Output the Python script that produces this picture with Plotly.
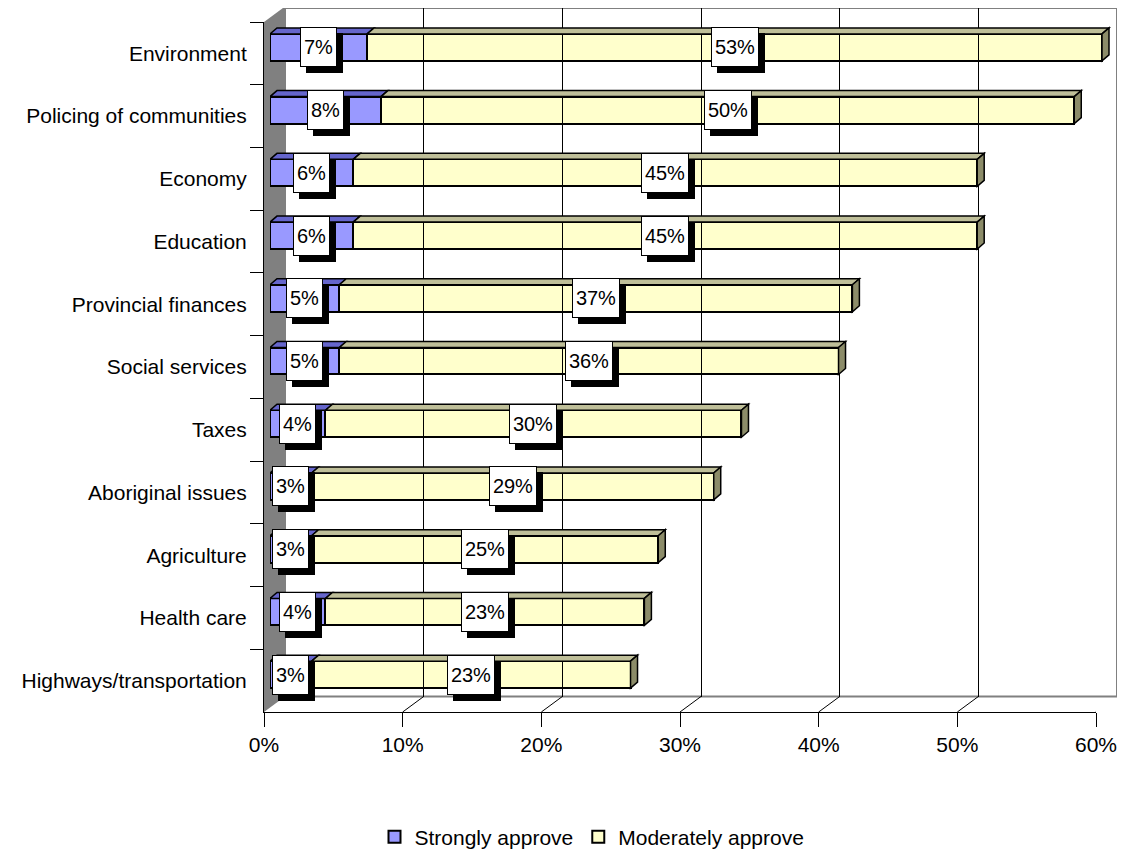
import plotly.graph_objects as go

# ---------------- data ----------------
categories = ["Environment", "Policing of communities", "Economy", "Education",
              "Provincial finances", "Social services", "Taxes", "Aboriginal issues",
              "Agriculture", "Health care", "Highways/transportation"]
strongly = [7, 8, 6, 6, 5, 5, 4, 3, 3, 4, 3]
moderately = [53, 50, 45, 45, 37, 36, 30, 29, 25, 23, 23]
series_names = ["Strongly approve", "Moderately approve"]
tick_values = [0, 10, 20, 30, 40, 50, 60]
tick_labels = ["0%", "10%", "20%", "30%", "40%", "50%", "60%"]

# ---------------- styling / geometry ----------------
OFF = 8                      # default page body margin
W, H = 1125 - 2 * OFF, 863 - 2 * OFF
FONT = "Liberation Sans, Arial, sans-serif"
BLUE, BLUE_TOP = "#9999FF", "#6666CC"
YEL, YEL_TOP, YEL_END = "#FFFFCC", "#BFBF99", "#8C8C69"
GRAY = "#808080"
LABEL_SIZE = 20

front_x = (264, 1096)   # screen pixel span for 0..60 on front plane
front_y = (22, 712)     # top, bottom of front plane
depth = (21, 15.5)      # back wall offset (right, up)
bar_off = (6, 6)        # bar plane offset from front plane
face = (7, 6)           # 3-D face depth of bars

xmax = 60
bar_xmax = 61           # extra room so the 3-D end faces are not clipped
n = len(categories)
px_per_x = (front_x[1] - front_x[0]) / xmax
px_per_cat = (front_y[1] - front_y[0]) / n
bar_w = 0.43


def px(v):
    return min(1.0, max(0.0, (v - OFF) / W))


def py(v):
    return min(1.0, max(0.0, 1 - (v - OFF) / H))


def text_width(t):
    # approximate Liberation Sans advance widths (em) for digits and '%'
    return sum((0.889 if ch == "%" else 0.556) for ch in t) * LABEL_SIZE


fig = go.Figure()

# bars (front faces)
fig.add_trace(go.Bar(y=categories, x=strongly, orientation="h", name=series_names[0],
                     xaxis="x", yaxis="y3", width=bar_w,
                     marker=dict(color=BLUE, line=dict(color="black", width=2)),
                     hoverinfo="skip"))
fig.add_trace(go.Bar(y=categories, x=moderately, orientation="h", name=series_names[1],
                     xaxis="x", yaxis="y3", width=bar_w,
                     marker=dict(color=YEL, line=dict(color="black", width=2)),
                     hoverinfo="skip"))
# dummy traces so the frame axes exist
fig.add_trace(go.Scatter(y=categories, x=[0] * n, xaxis="x2", yaxis="y", mode="markers",
                         marker=dict(opacity=0), showlegend=False, hoverinfo="skip"))
fig.add_trace(go.Scatter(y=[0], x=[0], xaxis="x3", yaxis="y2", mode="markers",
                         marker=dict(opacity=0), showlegend=False, hoverinfo="skip"))

shapes = []
# back wall
shapes.append(dict(type="rect", xref="x3 domain", yref="y2 domain", x0=0, x1=1, y0=0, y1=1,
                   line=dict(color=GRAY, width=2), fillcolor="white", layer="below"))
dxb = depth[0] / px_per_x
dyb = depth[1] / (front_y[1] - front_y[0])
# left wall
shapes.append(dict(type="path", xref="x2", yref="y domain",
                   path=f"M 0,0 L {dxb},{dyb} L {dxb},{1 + dyb} L 0,1 Z",
                   fillcolor=GRAY, line=dict(width=0), layer="below"))
# floor diagonals
for v in tick_values[1:]:
    last = v == tick_values[-1]
    shapes.append(dict(type="line", xref="x2", yref="y domain", x0=v, y0=0, x1=v + dxb, y1=dyb,
                       line=dict(color=GRAY if last else "black", width=2 if last else 1),
                       layer="below"))

# 3-D faces of bars
fdx = face[0] / px_per_x
fdy = face[1] / px_per_cat
for i in range(n):
    top = i - bar_w / 2
    bot = i + bar_w / 2
    segs = [(0, strongly[i], BLUE_TOP), (strongly[i], strongly[i] + moderately[i], YEL_TOP)]
    for x0, x1, col in segs:
        shapes.append(dict(type="path", xref="x", yref="y3",
                           path=f"M {x0},{top} L {x1},{top} L {x1 + fdx},{top - fdy} L {x0 + fdx},{top - fdy} Z",
                           fillcolor=col, line=dict(color="black", width=1.5), layer="above"))
    xe = strongly[i] + moderately[i]
    shapes.append(dict(type="path", xref="x", yref="y3",
                       path=f"M {xe},{top} L {xe + fdx},{top - fdy} L {xe + fdx},{bot - fdy} L {xe},{bot} Z",
                       fillcolor=YEL_END, line=dict(color="black", width=1.5), layer="above"))

# data labels
annotations = []
labels = []
for i, c in enumerate(categories):
    labels.append((strongly[i] / 2, c, f"{strongly[i]}%"))
    labels.append((strongly[i] + moderately[i] / 2, c, f"{moderately[i]}%"))
# drop shadows (empty boxes of the label's size)
for x, y, t in labels:
    annotations.append(dict(x=x, y=y, xref="x", yref="y3", text="&#160;", showarrow=False,
                            font=dict(family=FONT, size=LABEL_SIZE, color="black"),
                            bgcolor="black", bordercolor="black", borderwidth=1, borderpad=3,
                            width=text_width(t), height=32, xshift=6, yshift=-6))
for x, y, t in labels:
    annotations.append(dict(x=x, y=y, xref="x", yref="y3", text=t, showarrow=False,
                            font=dict(family=FONT, size=LABEL_SIZE, color="black"),
                            bgcolor="white", bordercolor="black", borderwidth=1, borderpad=3,
                            width=text_width(t), height=32))

bar_x0 = front_x[0] + bar_off[0]
fig.update_layout(
    width=W, height=H, margin=dict(l=0, r=0, t=0, b=0, autoexpand=False),
    paper_bgcolor="white", plot_bgcolor="rgba(0,0,0,0)",
    barmode="stack", bargap=0,
    font=dict(family=FONT, size=21, color="black"),
    showlegend=True,
    legend=dict(orientation="h", x=px(592), xanchor="center", y=py(837), yanchor="middle",
                font=dict(family=FONT, size=21, color="black"), itemwidth=30,
                traceorder="normal"),
    xaxis=dict(domain=[px(bar_x0), px(bar_x0 + bar_xmax * px_per_x)],
               range=[0, bar_xmax], anchor="y3", visible=False, fixedrange=True),
    yaxis3=dict(domain=[py(front_y[1] - bar_off[1]), py(front_y[0] - bar_off[1])],
                type="category", categoryarray=categories, range=[n - 0.5, -0.5],
                anchor="x", visible=False, fixedrange=True),
    xaxis2=dict(domain=[px(front_x[0]), px(front_x[1])], range=[0, xmax], anchor="y",
                tickvals=tick_values, ticktext=tick_labels, ticks="outside", ticklen=14,
                tickcolor="black", showline=True, linecolor="black", linewidth=1,
                showgrid=False, zeroline=False, fixedrange=True, automargin=False,
                ticklabeloverflow="allow",
                tickfont=dict(family=FONT, size=21, color="black")),
    yaxis=dict(domain=[py(front_y[1]), py(front_y[0])], type="category",
               categoryarray=categories, range=[n - 0.5, -0.5], anchor="x2",
               ticks="outside", tickson="boundaries", ticklen=13, tickcolor="black",
               showline=True, linecolor="black", linewidth=1, showgrid=False,
               automargin=False, ticklabeloverflow="allow", ticklabelstandoff=12,
               fixedrange=True, tickfont=dict(family=FONT, size=21, color="black")),
    xaxis3=dict(domain=[px(front_x[0] + depth[0]), px(front_x[1] + depth[0])],
                range=[0, xmax], anchor="y2", tickvals=tick_values[1:-1],
                showticklabels=False, ticks="", showgrid=True, gridcolor="black",
                gridwidth=1, zeroline=False, showline=False, fixedrange=True),
    yaxis2=dict(domain=[py(front_y[1] - depth[1]), py(front_y[0] - depth[1])],
                range=[0, 1], anchor="x3", visible=False, fixedrange=True),
    shapes=shapes, annotations=annotations,
)

fig.write_html("out.html")
